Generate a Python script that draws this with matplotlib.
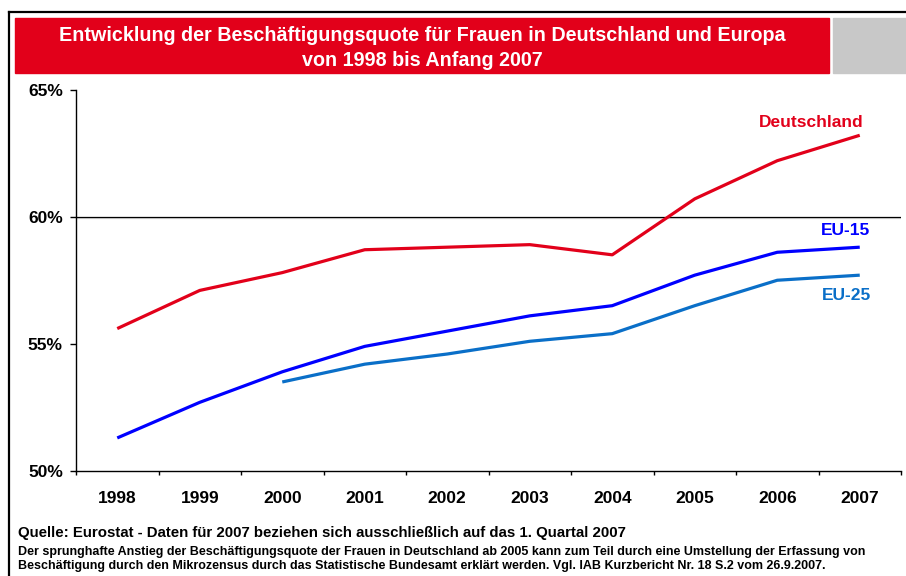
import matplotlib
matplotlib.use('Agg')
import matplotlib.pyplot as plt
from matplotlib.patches import Rectangle
from matplotlib.lines import Line2D

plt.rcParams['font.family'] = ['Liberation Sans', 'DejaVu Sans']

years = ['1998', '1999', '2000', '2001', '2002', '2003', '2004', '2005', '2006', '2007']
deutschland = [55.6, 57.1, 57.8, 58.7, 58.8, 58.9, 58.5, 60.7, 62.2, 63.2]
eu15 = [51.3, 52.7, 53.9, 54.9, 55.5, 56.1, 56.5, 57.7, 58.6, 58.8]
eu25_years = ['2000', '2001', '2002', '2003', '2004', '2005', '2006', '2007']
eu25 = [53.5, 54.2, 54.6, 55.1, 55.4, 56.5, 57.5, 57.7]
yticks = [50, 55, 60, 65]

red = '#E2001A'
blue = '#0000FF'
lightblue = '#0A6FC8'

fig = plt.figure(figsize=(9.06, 5.76), dpi=100)

# title bar
fig.patches.append(Rectangle((15/906, 1-73/576), 814/906, 55/576, transform=fig.transFigure,
                             color=red, zorder=0))
fig.patches.append(Rectangle((833/906, 1-73/576), 73/906, 55/576, transform=fig.transFigure,
                             color='#C8C8C8', zorder=0))
fig.text(422/906, 1-48/576, 'Entwicklung der Beschäftigungsquote für Frauen in Deutschland und Europa\nvon 1998 bis Anfang 2007',
         ha='center', va='center', color='white', fontsize=14.2, fontweight='bold', linespacing=1.4)

# frame
fig.lines.append(Line2D([9/906, 9/906], [0, 1-12/576], transform=fig.transFigure, color='black', lw=1.6))
fig.lines.append(Line2D([9/906, 1], [1-12/576, 1-12/576], transform=fig.transFigure, color='black', lw=1.6))

ax = fig.add_axes([76/906, 1-471/576, 825/906, 381.5/576])
x = list(range(len(years)))
x25 = [years.index(y) for y in eu25_years]

ax.axhline(60, color='black', lw=0.9, zorder=1)
ax.axhline(59.93, color='#D8D8D8', lw=0.9, zorder=0.5)
ax.plot(x, deutschland, color=red, lw=2.3, solid_capstyle='butt', zorder=3)
ax.plot(x, eu15, color=blue, lw=2.3, solid_capstyle='butt', zorder=3)
ax.plot(x25, eu25, color=lightblue, lw=2.3, solid_capstyle='butt', zorder=3)

ax.text(9.05, 63.72, 'Deutschland', color=red, fontsize=12.5, fontweight='bold', ha='right', va='center')
ax.text(9.12, 59.47, 'EU-15', color=blue, fontsize=12.5, fontweight='bold', ha='right', va='center')
ax.text(9.14, 56.9, 'EU-25', color=lightblue, fontsize=12.5, fontweight='bold', ha='right', va='center')

ax.set_xlim(-0.5, 9.5)
ax.set_ylim(50, 65)
ax.set_xticks(x)
ax.set_xticklabels(years, fontsize=12.5, fontweight='bold')
ax.set_xticks([i - 0.5 for i in range(len(years) + 1)], minor=True)
ax.tick_params(axis='x', which='major', length=0, pad=14.5)
ax.tick_params(axis='x', which='minor', length=3, width=1, direction='out')
ax.set_yticks(yticks)
ax.set_yticklabels([f'{v}%' for v in yticks], fontsize=12.5, fontweight='bold')
ax.tick_params(axis='y', length=4.5, width=1, pad=5)
ax.spines['top'].set_visible(False)
ax.spines['right'].set_visible(False)
ax.spines['left'].set_linewidth(1)
ax.spines['bottom'].set_linewidth(1)
ax.set_facecolor('none')

fig.text(18/906, 1-533/576, 'Quelle: Eurostat - Daten für 2007 beziehen sich ausschließlich auf das 1. Quartal 2007',
         ha='left', va='center', fontsize=10.8, fontweight='bold')
fig.text(18/906, 1-552.5/576, 'Der sprunghafte Anstieg der Beschäftigungsquote der Frauen in Deutschland ab 2005 kann zum Teil durch eine Umstellung der Erfassung von',
         ha='left', va='center', fontsize=9.0, fontweight='bold')
fig.text(18/906, 1-566.5/576, 'Beschäftigung durch den Mikrozensus durch das Statistische Bundesamt erklärt werden. Vgl. IAB Kurzbericht Nr. 18 S.2 vom 26.9.2007.',
         ha='left', va='center', fontsize=9.0, fontweight='bold')

fig.savefig('out.png', dpi=100)
plt.close()
